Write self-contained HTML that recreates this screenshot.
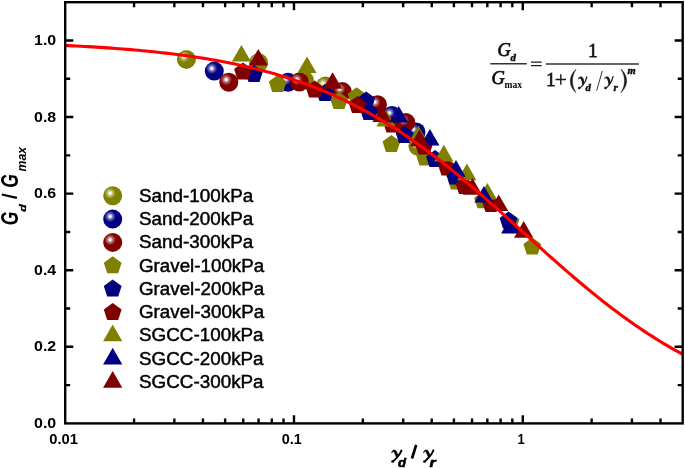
<!DOCTYPE html>
<html><head><meta charset="utf-8"><title>Gd/Gmax</title>
<style>html,body{margin:0;padding:0;background:#fff}svg{display:block;will-change:transform}text{font-family:"Liberation Sans",sans-serif;fill:#000}.ser{font-family:"Liberation Serif",serif}</style></head><body>
<svg width="685" height="468" viewBox="0 0 685 468">
<defs>
<radialGradient id="go" cx="0.365" cy="0.36" r="0.30" fx="0.365" fy="0.36"><stop offset="0" stop-color="#ffffff"/><stop offset="0.14" stop-color="#fbfbfb"/><stop offset="0.5" stop-color="#b9b96a"/><stop offset="1" stop-color="#808000"/></radialGradient>
<radialGradient id="gb" cx="0.365" cy="0.36" r="0.30" fx="0.365" fy="0.36"><stop offset="0" stop-color="#ffffff"/><stop offset="0.14" stop-color="#fbfbfb"/><stop offset="0.5" stop-color="#6a6ab9"/><stop offset="1" stop-color="#000080"/></radialGradient>
<radialGradient id="gr" cx="0.365" cy="0.36" r="0.30" fx="0.365" fy="0.36"><stop offset="0" stop-color="#ffffff"/><stop offset="0.14" stop-color="#fbfbfb"/><stop offset="0.5" stop-color="#b96a6a"/><stop offset="1" stop-color="#800000"/></radialGradient>
</defs>
<rect width="685" height="468" fill="#fff"/>
<g>
<circle cx="186.4" cy="59.4" r="9.5" fill="url(#go)"/>
<circle cx="258.6" cy="62.8" r="9.5" fill="url(#go)"/>
<circle cx="304.3" cy="80.3" r="9.5" fill="url(#go)"/>
<circle cx="325.5" cy="86.0" r="9.5" fill="url(#go)"/>
<circle cx="418.0" cy="146.3" r="9.5" fill="url(#go)"/>
<circle cx="214.3" cy="71.1" r="9.5" fill="url(#gb)"/>
<circle cx="288.0" cy="82.3" r="9.5" fill="url(#gb)"/>
<circle cx="392.0" cy="115.5" r="9.5" fill="url(#gb)"/>
<circle cx="416.0" cy="132.0" r="9.5" fill="url(#gb)"/>
<circle cx="228.8" cy="82.3" r="9.5" fill="url(#gr)"/>
<circle cx="299.4" cy="82.0" r="9.5" fill="url(#gr)"/>
<circle cx="342.3" cy="91.6" r="9.5" fill="url(#gr)"/>
<circle cx="377.5" cy="104.7" r="9.5" fill="url(#gr)"/>
<circle cx="405.8" cy="122.5" r="9.5" fill="url(#gr)"/>
<polygon points="277.7,74.9 286.6,81.4 283.2,91.9 272.2,91.9 268.8,81.4" fill="#808000"/>
<polygon points="339.0,92.0 347.9,98.5 344.5,109.0 333.5,109.0 330.1,98.5" fill="#808000"/>
<polygon points="356.6,87.3 365.5,93.8 362.1,104.3 351.1,104.3 347.7,93.8" fill="#808000"/>
<polygon points="391.4,134.9 400.3,141.4 396.9,151.9 385.9,151.9 382.5,141.4" fill="#808000"/>
<polygon points="425.0,148.6 433.9,155.1 430.5,165.6 419.5,165.6 416.1,155.1" fill="#808000"/>
<polygon points="456.5,172.6 465.4,179.1 462.0,189.6 451.0,189.6 447.6,179.1" fill="#808000"/>
<polygon points="483.0,191.2 491.9,197.7 488.5,208.2 477.5,208.2 474.1,197.7" fill="#808000"/>
<polygon points="510.5,212.8 519.4,219.3 516.0,229.8 505.0,229.8 501.6,219.3" fill="#808000"/>
<polygon points="532.3,237.4 541.2,243.9 537.8,254.4 526.8,254.4 523.4,243.9" fill="#808000"/>
<polygon points="254.0,65.0 262.9,71.5 259.5,82.0 248.5,82.0 245.1,71.5" fill="#000080"/>
<polygon points="325.0,84.0 333.9,90.5 330.5,101.0 319.5,101.0 316.1,90.5" fill="#000080"/>
<polygon points="366.2,91.6 375.1,98.1 371.7,108.6 360.7,108.6 357.3,98.1" fill="#000080"/>
<polygon points="369.0,103.0 377.9,109.5 374.5,120.0 363.5,120.0 360.1,109.5" fill="#000080"/>
<polygon points="404.5,126.1 413.4,132.6 410.0,143.1 399.0,143.1 395.6,132.6" fill="#000080"/>
<polygon points="435.0,150.1 443.9,156.6 440.5,167.1 429.5,167.1 426.1,156.6" fill="#000080"/>
<polygon points="455.0,167.6 463.9,174.1 460.5,184.6 449.5,184.6 446.1,174.1" fill="#000080"/>
<polygon points="508.5,211.6 517.4,218.1 514.0,228.6 503.0,228.6 499.6,218.1" fill="#000080"/>
<polygon points="243.0,62.6 251.9,69.1 248.5,79.6 237.5,79.6 234.1,69.1" fill="#800000"/>
<polygon points="314.6,80.6 323.5,87.1 320.1,97.6 309.1,97.6 305.7,87.1" fill="#800000"/>
<polygon points="357.5,96.0 366.4,102.5 363.0,113.0 352.0,113.0 348.6,102.5" fill="#800000"/>
<polygon points="392.0,115.6 400.9,122.1 397.5,132.6 386.5,132.6 383.1,122.1" fill="#800000"/>
<polygon points="424.0,137.6 432.9,144.1 429.5,154.6 418.5,154.6 415.1,144.1" fill="#800000"/>
<polygon points="447.0,158.6 455.9,165.1 452.5,175.6 441.5,175.6 438.1,165.1" fill="#800000"/>
<polygon points="464.5,177.1 473.4,183.6 470.0,194.1 459.0,194.1 455.6,183.6" fill="#800000"/>
<polygon points="491.0,195.1 499.9,201.6 496.5,212.1 485.5,212.1 482.1,201.6" fill="#800000"/>
<polygon points="241.4,45.0 251.0,61.6 231.8,61.6" fill="#808000"/>
<polygon points="307.0,56.5 316.6,73.1 297.4,73.1" fill="#808000"/>
<polygon points="386.0,109.9 395.6,126.5 376.4,126.5" fill="#808000"/>
<polygon points="418.3,125.6 427.9,142.2 408.7,142.2" fill="#808000"/>
<polygon points="443.8,144.7 453.4,161.4 434.2,161.4" fill="#808000"/>
<polygon points="466.9,163.5 476.5,180.2 457.3,180.2" fill="#808000"/>
<polygon points="487.4,182.9 497.0,199.6 477.8,199.6" fill="#808000"/>
<polygon points="398.7,106.0 408.3,122.6 389.1,122.6" fill="#000080"/>
<polygon points="429.9,128.9 439.5,145.6 420.3,145.6" fill="#000080"/>
<polygon points="456.0,160.1 465.6,176.8 446.4,176.8" fill="#000080"/>
<polygon points="483.9,185.9 493.5,202.6 474.3,202.6" fill="#000080"/>
<polygon points="510.7,216.7 520.3,233.4 501.1,233.4" fill="#000080"/>
<polygon points="258.3,48.9 267.9,65.5 248.7,65.5" fill="#800000"/>
<polygon points="332.6,72.2 342.2,88.8 323.0,88.8" fill="#800000"/>
<polygon points="382.0,105.5 391.6,122.1 372.4,122.1" fill="#800000"/>
<polygon points="419.5,129.6 429.1,146.2 409.9,146.2" fill="#800000"/>
<polygon points="472.5,178.1 482.1,194.8 462.9,194.8" fill="#800000"/>
<polygon points="498.7,194.4 508.3,211.1 489.1,211.1" fill="#800000"/>
<polygon points="523.7,221.1 533.3,237.8 514.1,237.8" fill="#800000"/>
</g>
<polyline points="65.20,45.47 69.06,45.66 72.92,45.85 76.78,46.04 80.64,46.24 84.50,46.46 88.36,46.67 92.22,46.90 96.08,47.13 99.93,47.38 103.79,47.63 107.65,47.89 111.51,48.16 115.37,48.44 119.23,48.73 123.09,49.02 126.95,49.33 130.81,49.66 134.67,49.99 138.53,50.33 142.39,50.69 146.25,51.06 150.11,51.44 153.97,51.83 157.82,52.24 161.68,52.67 165.54,53.10 169.40,53.56 173.26,54.03 177.12,54.51 180.98,55.01 184.84,55.53 188.70,56.07 192.56,56.62 196.42,57.20 200.28,57.79 204.14,58.40 208.00,59.04 211.86,59.69 215.72,60.37 219.57,61.07 223.43,61.79 227.29,62.54 231.15,63.31 235.01,64.10 238.87,64.93 242.73,65.77 246.59,66.65 250.45,67.55 254.31,68.49 258.17,69.45 262.03,70.44 265.89,71.46 269.75,72.52 273.61,73.61 277.47,74.73 281.32,75.89 285.18,77.08 289.04,78.30 292.90,79.56 296.76,80.86 300.62,82.20 304.48,83.58 308.34,84.99 312.20,86.45 316.06,87.95 319.92,89.49 323.78,91.07 327.64,92.69 331.50,94.36 335.36,96.07 339.22,97.83 343.07,99.63 346.93,101.48 350.79,103.38 354.65,105.32 358.51,107.31 362.37,109.35 366.23,111.43 370.09,113.57 373.95,115.75 377.81,117.98 381.67,120.27 385.53,122.60 389.39,124.98 393.25,127.40 397.11,129.88 400.97,132.41 404.82,134.98 408.68,137.60 412.54,140.27 416.40,142.99 420.26,145.76 424.12,148.57 427.98,151.42 431.84,154.32 435.70,157.26 439.56,160.24 443.42,163.27 447.28,166.33 451.14,169.44 455.00,172.58 458.86,175.76 462.72,178.97 466.57,182.21 470.43,185.48 474.29,188.79 478.15,192.12 482.01,195.48 485.87,198.85 489.73,202.26 493.59,205.68 497.45,209.11 501.31,212.57 505.17,216.03 509.03,219.51 512.89,222.99 516.75,226.48 520.61,229.98 524.47,233.47 528.33,236.96 532.18,240.45 536.04,243.94 539.90,247.42 543.76,250.88 547.62,254.34 551.48,257.78 555.34,261.20 559.20,264.60 563.06,267.99 566.92,271.35 570.78,274.68 574.64,277.99 578.50,281.26 582.36,284.51 586.22,287.73 590.08,290.91 593.93,294.05 597.79,297.16 601.65,300.23 605.51,303.26 609.37,306.25 613.23,309.20 617.09,312.10 620.95,314.96 624.81,317.78 628.67,320.55 632.53,323.27 636.39,325.95 640.25,328.58 644.11,331.16 647.97,333.69 651.83,336.17 655.68,338.61 659.54,340.99 663.40,343.33 667.26,345.62 671.12,347.86 674.98,350.05 678.84,352.19 682.70,354.28" fill="none" stroke="#ff0000" stroke-width="3.1" stroke-linejoin="round"/>
<g stroke="#000" stroke-width="2.4" fill="none" stroke-linecap="butt">
<rect x="65.2" y="2.2" width="617.50" height="421.20"/>
<path d="M65.2 385.11h5.0M682.7 385.11h-5.0"/>
<path d="M65.2 346.82h8.1M682.7 346.82h-8.1"/>
<path d="M65.2 308.53h5.0M682.7 308.53h-5.0"/>
<path d="M65.2 270.24h8.1M682.7 270.24h-8.1"/>
<path d="M65.2 231.95h5.0M682.7 231.95h-5.0"/>
<path d="M65.2 193.65h8.1M682.7 193.65h-8.1"/>
<path d="M65.2 155.36h5.0M682.7 155.36h-5.0"/>
<path d="M65.2 117.07h8.1M682.7 117.07h-8.1"/>
<path d="M65.2 78.78h5.0M682.7 78.78h-5.0"/>
<path d="M65.2 40.49h8.1M682.7 40.49h-8.1"/>
<path d="M134.07 423.4v-5.0M134.07 2.2v5.0"/>
<path d="M174.36 423.4v-5.0M174.36 2.2v5.0"/>
<path d="M202.95 423.4v-5.0M202.95 2.2v5.0"/>
<path d="M225.12 423.4v-5.0M225.12 2.2v5.0"/>
<path d="M243.23 423.4v-5.0M243.23 2.2v5.0"/>
<path d="M258.55 423.4v-5.0M258.55 2.2v5.0"/>
<path d="M271.82 423.4v-5.0M271.82 2.2v5.0"/>
<path d="M283.52 423.4v-5.0M283.52 2.2v5.0"/>
<path d="M293.99 423.4v-8.1M293.99 2.2v8.1"/>
<path d="M362.86 423.4v-5.0M362.86 2.2v5.0"/>
<path d="M403.15 423.4v-5.0M403.15 2.2v5.0"/>
<path d="M431.74 423.4v-5.0M431.74 2.2v5.0"/>
<path d="M453.91 423.4v-5.0M453.91 2.2v5.0"/>
<path d="M472.02 423.4v-5.0M472.02 2.2v5.0"/>
<path d="M487.34 423.4v-5.0M487.34 2.2v5.0"/>
<path d="M500.61 423.4v-5.0M500.61 2.2v5.0"/>
<path d="M512.31 423.4v-5.0M512.31 2.2v5.0"/>
<path d="M522.78 423.4v-8.1M522.78 2.2v8.1"/>
<path d="M591.65 423.4v-5.0M591.65 2.2v5.0"/>
<path d="M631.94 423.4v-5.0M631.94 2.2v5.0"/>
<path d="M660.53 423.4v-5.0M660.53 2.2v5.0"/>
</g>
<text x="34.0" y="427.9" font-size="14.3" font-weight="bold" textLength="22.2" lengthAdjust="spacingAndGlyphs">0.0</text>
<text x="34.0" y="351.3" font-size="14.3" font-weight="bold" textLength="22.2" lengthAdjust="spacingAndGlyphs">0.2</text>
<text x="34.0" y="274.7" font-size="14.3" font-weight="bold" textLength="22.2" lengthAdjust="spacingAndGlyphs">0.4</text>
<text x="34.0" y="198.2" font-size="14.3" font-weight="bold" textLength="22.2" lengthAdjust="spacingAndGlyphs">0.6</text>
<text x="34.0" y="121.6" font-size="14.3" font-weight="bold" textLength="22.2" lengthAdjust="spacingAndGlyphs">0.8</text>
<text x="34.0" y="45.0" font-size="14.3" font-weight="bold" textLength="22.2" lengthAdjust="spacingAndGlyphs">1.0</text>
<text x="49.2" y="444.0" font-size="14" font-weight="bold" textLength="28.7" lengthAdjust="spacingAndGlyphs">0.01</text>
<text x="281.8" y="444.0" font-size="14" font-weight="bold" textLength="20.1" lengthAdjust="spacingAndGlyphs">0.1</text>
<text x="517.6" y="444.0" font-size="14" font-weight="bold" textLength="7.2" lengthAdjust="spacingAndGlyphs">1</text>
<circle cx="112.7" cy="195.8" r="9.5" fill="url(#go)"/>
<text x="139.0" y="201.6" font-size="17.6" stroke="#000" stroke-width="0.45" textLength="114.2" lengthAdjust="spacingAndGlyphs">Sand-100kPa</text>
<circle cx="112.7" cy="219.1" r="9.5" fill="url(#gb)"/>
<text x="139.0" y="224.9" font-size="17.6" stroke="#000" stroke-width="0.45" textLength="114.2" lengthAdjust="spacingAndGlyphs">Sand-200kPa</text>
<circle cx="112.7" cy="242.4" r="9.5" fill="url(#gr)"/>
<text x="139.0" y="248.2" font-size="17.6" stroke="#000" stroke-width="0.45" textLength="114.2" lengthAdjust="spacingAndGlyphs">Sand-300kPa</text>
<polygon points="112.7,256.3 121.6,262.8 118.2,273.3 107.2,273.3 103.8,262.8" fill="#808000"/>
<text x="139.0" y="271.5" font-size="17.6" stroke="#000" stroke-width="0.45" textLength="125.2" lengthAdjust="spacingAndGlyphs">Gravel-100kPa</text>
<polygon points="112.7,279.6 121.6,286.1 118.2,296.6 107.2,296.6 103.8,286.1" fill="#000080"/>
<text x="139.0" y="294.8" font-size="17.6" stroke="#000" stroke-width="0.45" textLength="125.2" lengthAdjust="spacingAndGlyphs">Gravel-200kPa</text>
<polygon points="112.7,302.9 121.6,309.4 118.2,319.9 107.2,319.9 103.8,309.4" fill="#800000"/>
<text x="139.0" y="318.1" font-size="17.6" stroke="#000" stroke-width="0.45" textLength="125.2" lengthAdjust="spacingAndGlyphs">Gravel-300kPa</text>
<polygon points="112.7,324.5 122.3,341.2 103.1,341.2" fill="#808000"/>
<text x="139.0" y="341.4" font-size="17.6" stroke="#000" stroke-width="0.45" textLength="124.6" lengthAdjust="spacingAndGlyphs">SGCC-100kPa</text>
<polygon points="112.7,347.8 122.3,364.4 103.1,364.4" fill="#000080"/>
<text x="139.0" y="364.6" font-size="17.6" stroke="#000" stroke-width="0.45" textLength="124.6" lengthAdjust="spacingAndGlyphs">SGCC-200kPa</text>
<polygon points="112.7,371.1 122.3,387.8 103.1,387.8" fill="#800000"/>
<text x="139.0" y="388.0" font-size="17.6" stroke="#000" stroke-width="0.45" textLength="124.6" lengthAdjust="spacingAndGlyphs">SGCC-300kPa</text>
<g transform="translate(17.6,224.8) rotate(-90)" font-weight="bold" font-style="italic"><text transform="translate(-0.4,0.4) scale(1,1.34)" font-size="17.5">G</text><text transform="translate(13.0,8.3) scale(1.3,1)" font-size="9.3" stroke="#000" stroke-width="0.4">d</text><path d="M26.9 -0.7L30.3 -15.8" stroke="#000" stroke-width="2.3" fill="none"/><text transform="translate(37.0,0.4) scale(1,1.34)" font-size="17.5">G</text><text x="53.3" y="8.5" font-size="12.5" textLength="24.5" lengthAdjust="spacingAndGlyphs">max</text></g>
<path d="M391.70,452.80 C391.85,451.30 392.80,450.15 394.10,450.05 C395.00,450.00 395.70,450.20 396.10,450.90 L398.30,455.50 L397.40,457.40 L396.40,457.00 L394.10,452.10 C393.80,451.50 393.10,451.20 392.65,451.55 C392.30,451.85 392.15,452.40 392.05,452.90 Z" fill="#000" stroke="#000" stroke-width="0.55" stroke-linejoin="round"/><path d="M401.50,450.40 C400.80,452.60 399.40,454.60 397.80,456.50 C396.40,458.20 394.60,460.10 392.80,461.50" fill="none" stroke="#000" stroke-width="1.9" stroke-linecap="round"/><ellipse cx="392.65" cy="461.60" rx="1.45" ry="1.25" fill="#000"/>
<path d="M423.60,452.70 C423.75,451.20 424.70,450.05 426.00,449.95 C426.90,449.90 427.60,450.10 428.00,450.80 L430.20,455.40 L429.30,457.30 L428.30,456.90 L426.00,452.00 C425.70,451.40 425.00,451.10 424.55,451.45 C424.20,451.75 424.05,452.30 423.95,452.80 Z" fill="#000" stroke="#000" stroke-width="0.55" stroke-linejoin="round"/><path d="M433.40,450.30 C432.70,452.50 431.30,454.50 429.70,456.40 C428.30,458.10 426.50,460.00 424.70,461.40" fill="none" stroke="#000" stroke-width="1.9" stroke-linecap="round"/><ellipse cx="424.55" cy="461.50" rx="1.45" ry="1.25" fill="#000"/>
<g font-weight="bold" font-style="italic" stroke="#000" stroke-width="0.6"><text transform="translate(398.1,466.7) scale(1.06,1)" font-size="12.4">d</text><path d="M416.2 444.9L412.0 458.5" stroke="#000" stroke-width="2.7" fill="none"/><text transform="translate(429.6,466.8) scale(1.25,1)" font-size="12.8">r</text></g>
<g class="ser" fill="#1a1a1a" stroke="#1a1a1a" stroke-width="0.5">
<g stroke="#333" stroke-width="1.5"><path d="M490.3 63.8H526.8M545.8 63.9H638.9"/></g>
<text class="ser" x="497.6" y="55.8" font-size="18.5" font-style="italic" stroke-width="0.75" fill="#1a1a1a">G</text>
<text class="ser" x="510.6" y="61.3" font-size="10.8" font-style="italic" font-weight="bold" fill="#1a1a1a">d</text>
<text class="ser" x="491.6" y="84.0" font-size="18.5" font-style="italic" stroke-width="0.75" fill="#1a1a1a">G</text>
<text class="ser" x="504.6" y="87.6" font-size="11" font-weight="bold" textLength="17.4" lengthAdjust="spacingAndGlyphs" stroke="none" fill="#1a1a1a">max</text>
<g stroke="#1a1a1a" stroke-width="1.2"><path d="M531 62.2H541.6M531 65.6H541.6"/></g>
<text class="ser" x="588.2" y="56.6" font-size="18.4" stroke-width="0.8" fill="#1a1a1a">1</text>
<text class="ser" x="546.2" y="85.7" font-size="18.4" stroke-width="0.8" fill="#1a1a1a">1</text>
<g stroke="#1a1a1a" stroke-width="1.4"><path d="M555.6 79.5H566M560.8 74.3V84.7"/></g>
<path d="M576.0 69.4 C571.4 73.5 570.3 78 570.3 81 C570.3 84 571.4 88.5 576.0 92.6 C573.3 88.4 572.4 84.5 572.4 81 C572.4 77.5 573.3 73.6 576.0 69.4Z" fill="#1a1a1a" stroke="#1a1a1a" stroke-width="0.5"/>
<path d="M620.9 69.0 C625.5 73.2 626.6 77.8 626.6 80.8 C626.6 83.8 625.5 88.4 620.9 92.6 C623.6 88.4 624.5 84.4 624.5 80.8 C624.5 77.2 623.6 73.2 620.9 69.0Z" fill="#1a1a1a" stroke="#1a1a1a" stroke-width="0.5"/>
<path d="M578.00,79.22 C578.40,77.41 579.60,76.40 581.00,76.60 C583.40,77.00 584.60,79.83 583.90,84.46 L582.30,85.27 C582.10,82.04 581.40,79.63 580.30,78.72 C579.60,78.21 578.90,78.42 578.55,79.42 Z" fill="#1a1a1a" stroke="#1a1a1a" stroke-width="0.0" stroke-linejoin="round"/><path d="M586.80,76.90 C586.20,80.03 584.60,82.85 583.20,84.66 C581.80,86.48 580.50,87.49 579.40,88.19" fill="none" stroke="#1a1a1a" stroke-width="1.25" stroke-linecap="round"/><ellipse cx="579.20" cy="88.04" rx="1.15" ry="1.01" fill="#1a1a1a"/>
<text class="ser" x="585.6" y="90.6" font-size="10.8" font-style="italic" font-weight="bold" fill="#1a1a1a">d</text>
<path d="M602.3 71.0L596.6 90.6" stroke="#1a1a1a" stroke-width="0.9" fill="none"/>
<path d="M604.20,79.07 C604.60,77.22 605.80,76.20 607.20,76.40 C609.60,76.81 610.80,79.68 610.10,84.39 L608.50,85.21 C608.30,81.93 607.60,79.48 606.50,78.55 C605.80,78.04 605.10,78.25 604.75,79.27 Z" fill="#1a1a1a" stroke="#1a1a1a" stroke-width="0.0" stroke-linejoin="round"/><path d="M613.00,76.71 C612.40,79.89 610.80,82.75 609.40,84.59 C608.00,86.44 606.70,87.46 605.60,88.18" fill="none" stroke="#1a1a1a" stroke-width="1.25" stroke-linecap="round"/><ellipse cx="605.40" cy="88.02" rx="1.15" ry="1.02" fill="#1a1a1a"/>
<text class="ser" x="613.4" y="90.7" font-size="10.8" font-style="italic" font-weight="bold" fill="#1a1a1a">r</text>
<text class="ser" x="627.4" y="74.0" font-size="10.5" font-style="italic" font-weight="bold" textLength="8.2" lengthAdjust="spacingAndGlyphs" fill="#1a1a1a">m</text>
</g>
</svg></body></html>
